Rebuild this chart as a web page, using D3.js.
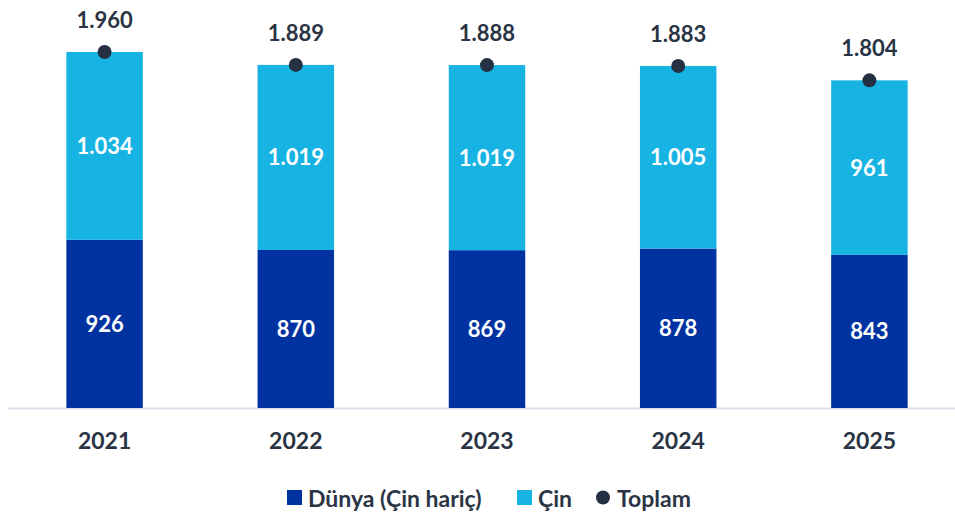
<!DOCTYPE html>
<html>
<head>
<meta charset="utf-8">
<script src="https://cdn.jsdelivr.net/npm/d3@7"></script>
<style>
body{margin:0;background:#fff;}
text{font-family:Lato,"Open Sans",sans-serif;font-weight:700;}
</style>
</head>
<body>
<svg id="chart" width="955" height="516"></svg>
<script>
var years = ["2021","2022","2023","2024","2025"];
var dunya = [926, 870, 869, 878, 843];
var cin = [1034, 1019, 1019, 1005, 961];
var toplam = [1960, 1889, 1888, 1883, 1804];
var legendLabels = ["Dünya (Çin hariç)", "Çin", "Toplam"];

var colDunya = "#0033a1", colCin = "#17b3e3", colDot = "#253142", colText = "#2a3444";

var svg = d3.select("#chart");
var baseY = 408;

var x = d3.scaleBand().domain(years).range([9, 965]).paddingInner(0.6).paddingOuter(0.3);
var y = d3.scaleLinear().domain([0, 1960]).range([baseY, 52]);

function fmt(v){ return d3.format(",")(v).replace(/,/g, "."); }

var rows = years.map(function(yr, i){ return {year: yr, d: dunya[i], c: cin[i], t: toplam[i]}; });

var g = svg.append("g");

// axis line
g.append("line")
	.attr("x1", 8).attr("x2", 955)
	.attr("y1", baseY + 0.5).attr("y2", baseY + 0.5)
	.attr("stroke", "#d9dee8").attr("stroke-width", 2);

var bars = g.selectAll("g.bar").data(rows).enter()
	.append("g").attr("class", "bar");

bars.append("rect")
	.attr("x", function(d){ return x(d.year); })
	.attr("width", x.bandwidth())
	.attr("y", function(d){ return y(d.d); })
	.attr("height", function(d){ return baseY - y(d.d); })
	.attr("fill", colDunya);

bars.append("rect")
	.attr("x", function(d){ return x(d.year); })
	.attr("width", x.bandwidth())
	.attr("y", function(d){ return y(d.d + d.c); })
	.attr("height", function(d){ return y(d.d) - y(d.d + d.c); })
	.attr("fill", colCin);

bars.append("text")
	.attr("x", function(d){ return x(d.year) + x.bandwidth()/2; })
	.attr("y", function(d){ return (baseY + y(d.d))/2; })
	.attr("dy", "0.36em")
	.attr("text-anchor", "middle")
	.attr("fill", "#fff").attr("font-size", 22)
	.text(function(d){ return fmt(d.d); });

bars.append("text")
	.attr("x", function(d){ return x(d.year) + x.bandwidth()/2; })
	.attr("y", function(d){ return (y(d.d) + y(d.d + d.c))/2; })
	.attr("dy", "0.36em")
	.attr("text-anchor", "middle")
	.attr("fill", "#fff").attr("font-size", 22)
	.text(function(d){ return fmt(d.c); });

bars.append("circle")
	.attr("cx", function(d){ return x(d.year) + x.bandwidth()/2; })
	.attr("cy", function(d){ return y(d.t); })
	.attr("r", 7)
	.attr("fill", colDot);

bars.append("text")
	.attr("x", function(d){ return x(d.year) + x.bandwidth()/2; })
	.attr("y", function(d){ return y(d.t) - 24; })
	.attr("text-anchor", "middle")
	.attr("fill", colText).attr("font-size", 22)
	.text(function(d){ return fmt(d.t); });

// year labels
g.selectAll("text.year").data(years).enter()
	.append("text").attr("class", "year")
	.attr("x", function(d){ return x(d) + x.bandwidth()/2; })
	.attr("y", 449)
	.attr("text-anchor", "middle")
	.attr("fill", colText).attr("font-size", 23)
	.text(function(d){ return d; });

// legend
var leg = svg.append("g").attr("transform", "translate(0,499)");
var legItems = [
	{label: legendLabels[0], x: 287, type: "rect", color: colDunya},
	{label: legendLabels[1], x: 517, type: "rect", color: colCin},
	{label: legendLabels[2], x: 596, type: "circle", color: colDot}
];
legItems.forEach(function(it){
	if(it.type == "rect")
	{
		leg.append("rect").attr("x", it.x).attr("y", -9).attr("width", 15).attr("height", 15).attr("fill", it.color);
	}
	else
	{
		leg.append("circle").attr("cx", it.x + 7).attr("cy", -1.5).attr("r", 7).attr("fill", it.color);
	}
	leg.append("text")
		.attr("x", it.x + 21)
		.attr("y", 0).attr("dy", "0.36em")
		.attr("fill", colText).attr("font-size", 23)
		.text(it.label);
});
</script>
</body>
</html>
